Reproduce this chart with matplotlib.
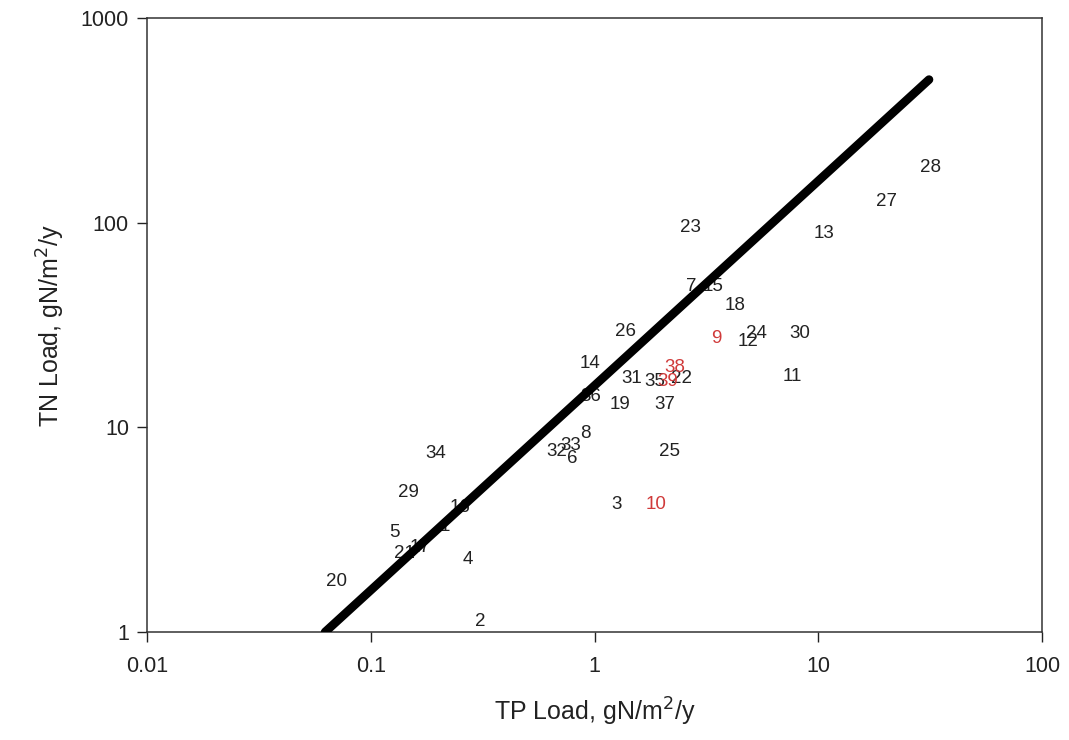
import matplotlib
matplotlib.use("Agg")
import matplotlib.pyplot as plt
from matplotlib.ticker import FixedLocator, NullLocator

plt.rcParams["font.family"] = ["Liberation Sans", "DejaVu Sans"]

# site loads (TP, TN) in gN/m2/y, labelled by site number
site_ids = [1, 2, 3, 4, 5, 6, 7, 8, 9, 10,
            11, 12, 13, 14, 15, 16, 17, 18, 19, 20,
            21, 22, 23, 24, 25, 26, 27, 28, 29, 30,
            31, 32, 33, 34, 35, 36, 37, 38, 39]
tp_load = [0.215, 0.308, 1.25, 0.272, 0.128, 0.793, 2.70, 0.907, 3.49, 1.88,
           7.63, 4.85, 10.6, 0.955, 3.39, 0.251, 0.166, 4.25, 1.30, 0.070,
           0.142, 2.44, 2.67, 5.27, 2.17, 1.37, 20.1, 31.6, 0.147, 8.29,
           1.47, 0.680, 0.785, 0.196, 1.86, 0.964, 2.07, 2.29, 2.13]
tn_load = [3.26, 1.12, 4.22, 2.25, 3.05, 7.08, 49.0, 9.28, 27.3, 4.22,
           17.8, 26.4, 89.0, 20.6, 49.0, 4.08, 2.60, 39.6, 12.9, 1.77,
           2.43, 17.4, 94.2, 28.9, 7.66, 29.5, 127.6, 187.0, 4.78, 28.6,
           17.4, 7.66, 8.11, 7.49, 16.8, 14.1, 12.9, 19.7, 16.8]
highlight = {9, 10, 38, 39}

# N:P = 16 reference line
ratio_np = 16
line_tp = [1 / 16, 31.25]
line_tn = [ratio_np * v for v in line_tp]

fig = plt.figure(figsize=(10.69, 7.40), dpi=100)
ax = fig.add_axes([0.1375, 0.1459, 0.8373, 0.8298])

ax.plot(line_tp, line_tn, color="black", linewidth=6.2, solid_capstyle="round", zorder=3)

for sid, x, y in zip(site_ids, tp_load, tn_load):
    color = "#d03a3a" if sid in highlight else "#222222"
    ax.text(x, y, str(sid), color=color, fontsize=13.5,
            ha="center", va="center", zorder=2)

ax.set_xscale("log")
ax.set_yscale("log")
ax.set_xlim(0.01, 100)
ax.set_ylim(1, 1000)
ax.xaxis.set_major_locator(FixedLocator([0.01, 0.1, 1, 10, 100]))
ax.yaxis.set_major_locator(FixedLocator([1, 10, 100, 1000]))
ax.xaxis.set_minor_locator(NullLocator())
ax.yaxis.set_minor_locator(NullLocator())
ax.set_xticklabels(["0.01", "0.1", "1", "10", "100"])
ax.set_yticklabels(["1", "10", "100", "1000"])
ax.tick_params(direction="out", length=7, width=1, labelsize=15.5,
               colors="#222222", pad=6)
ax.tick_params(axis="x", pad=10)
for s in ax.spines.values():
    s.set_linewidth(1.1)
    s.set_color("#333333")

ax.set_xlabel("TP Load, gN/m$^2$/y", fontsize=18, color="#222222", labelpad=14)
ax.set_ylabel("TN Load, gN/m$^2$/y", fontsize=18, color="#222222", labelpad=10)

fig.savefig("out.png", dpi=100, facecolor="white")
